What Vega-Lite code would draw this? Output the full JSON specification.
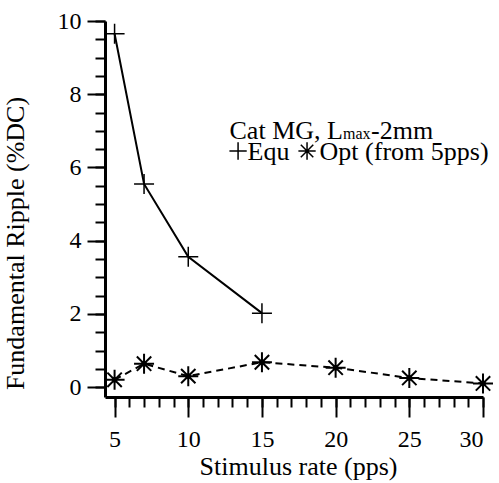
{
  "$schema": "https://vega.github.io/schema/vega-lite/v6.json",
  "autosize": "none",
  "width": 378,
  "height": 376,
  "padding": {"left": 105, "top": 21, "right": 16, "bottom": 86},
  "background": "white",
  "config": {
    "view": {"stroke": null},
    "axis": {
      "grid": false,
      "domainColor": "black",
      "domainWidth": 3,
      "tickColor": "black",
      "tickWidth": 2,
      "labelColor": "black",
      "labelFont": "Liberation Serif, serif",
      "labelFontSize": 24,
      "titleFont": "Liberation Serif, serif",
      "titleFontSize": 26,
      "titleFontWeight": "normal",
      "titleColor": "black"
    }
  },
  "datasets": {
    "curves": [
      {"series": "Equ", "rate": 5, "ripple": 9.65},
      {"series": "Equ", "rate": 7, "ripple": 5.55},
      {"series": "Equ", "rate": 10, "ripple": 3.56},
      {"series": "Equ", "rate": 15, "ripple": 2.02},
      {"series": "Opt", "rate": 5, "ripple": 0.2},
      {"series": "Opt", "rate": 7, "ripple": 0.64},
      {"series": "Opt", "rate": 10, "ripple": 0.3},
      {"series": "Opt", "rate": 15, "ripple": 0.68},
      {"series": "Opt", "rate": 20, "ripple": 0.53},
      {"series": "Opt", "rate": 25, "ripple": 0.25},
      {"series": "Opt", "rate": 30, "ripple": 0.1}
    ],
    "notes": [
      {"text": "Cat MG, L", "x": 12.8, "y": 6.79, "size": 26},
      {"text": "max", "x": 20.5, "y": 6.79, "size": 16},
      {"text": "-2mm", "x": 22.4, "y": 6.79, "size": 26},
      {"text": "Equ", "x": 14.02, "y": 6.21, "size": 26},
      {"text": "Opt (from 5pps)", "x": 18.91, "y": 6.21, "size": 26}
    ],
    "keys": [
      {"series": "Equ", "x": 13.38, "y": 6.45},
      {"series": "Opt", "x": 18.06, "y": 6.45}
    ]
  },
  "resolve": {"axis": {"x": "independent", "y": "independent"}},
  "layer": [
    {
      "data": {"name": "curves"},
      "transform": [{"filter": "datum.series === 'Equ'"}],
      "mark": {"type": "line", "color": "black", "strokeWidth": 2},
      "encoding": {
        "x": {"field": "rate", "type": "quantitative",
              "scale": {"domain": [4.35, 30], "nice": false, "zero": false},
              "axis": {"orient": "bottom", "values": [5, 10, 15, 20, 25, 30], "tickSize": 20, "labelPadding": 10, "title": "Stimulus rate (pps)", "titlePadding": 2, "titleX": 193}},
        "y": {"field": "ripple", "type": "quantitative",
              "scale": {"domain": [-0.27, 10], "nice": false, "zero": false},
              "axis": {"orient": "left", "values": [0, 2, 4, 6, 8, 10], "tickSize": 18, "labelPadding": 6, "title": "Fundamental Ripple (%DC)", "titlePadding": 29, "titleY": 222}}
      }
    },
    {
      "data": {"name": "curves"},
      "transform": [{"filter": "datum.series === 'Opt'"}],
      "mark": {"type": "line", "color": "black", "strokeWidth": 2, "strokeDash": [7, 5]},
      "encoding": {
        "x": {"field": "rate", "type": "quantitative",
              "axis": {"orient": "bottom", "values": [5,6,7,8,9,10,11,12,13,14,15,16,17,18,19,20,21,22,23,24,25,26,27,28,29,30], "tickSize": 10, "labels": false, "domain": false, "title": null}},
        "y": {"field": "ripple", "type": "quantitative",
              "axis": {"orient": "left", "values": [0,0.5,1,1.5,2,2.5,3,3.5,4,4.5,5,5.5,6,6.5,7,7.5,8,8.5,9,9.5,10], "tickSize": 10, "labels": false, "domain": false, "title": null}}
      }
    },
    {
      "data": {"name": "curves"},
      "transform": [{"filter": "datum.series === 'Equ'"}],
      "mark": {"type": "point", "shape": "M-1,0H1M0,-1V1", "size": 400, "filled": false, "color": "black", "strokeWidth": 1.5, "opacity": 1},
      "encoding": {
        "x": {"field": "rate", "type": "quantitative", "axis": null},
        "y": {"field": "ripple", "type": "quantitative", "axis": null}
      }
    },
    {
      "data": {"name": "curves"},
      "transform": [{"filter": "datum.series === 'Opt'"}],
      "mark": {"type": "point", "shape": "M-1,0H1M0,-1V1M-0.72,-0.72L0.72,0.72M-0.72,0.72L0.72,-0.72", "size": 400, "filled": false, "color": "black", "strokeWidth": 2, "opacity": 1},
      "encoding": {
        "x": {"field": "rate", "type": "quantitative", "axis": null},
        "y": {"field": "ripple", "type": "quantitative", "axis": null}
      }
    },
    {
      "data": {"name": "curves"},
      "transform": [{"filter": "datum.series === 'Opt'"}],
      "mark": {"type": "point", "shape": "circle", "size": 30, "filled": true, "color": "black", "opacity": 1},
      "encoding": {
        "x": {"field": "rate", "type": "quantitative", "axis": null},
        "y": {"field": "ripple", "type": "quantitative", "axis": null}
      }
    },
    {
      "data": {"name": "keys"},
      "transform": [{"filter": "datum.series === 'Equ'"}],
      "mark": {"type": "point", "shape": "M-1,0H1M0,-1V1", "size": 300, "filled": false, "color": "black", "strokeWidth": 1.5, "opacity": 1},
      "encoding": {
        "x": {"field": "x", "type": "quantitative", "axis": null},
        "y": {"field": "y", "type": "quantitative", "axis": null}
      }
    },
    {
      "data": {"name": "keys"},
      "transform": [{"filter": "datum.series === 'Opt'"}],
      "mark": {"type": "point", "shape": "M-1,0H1M0,-1V1M-0.72,-0.72L0.72,0.72M-0.72,0.72L0.72,-0.72", "size": 300, "filled": false, "color": "black", "strokeWidth": 1.5, "opacity": 1},
      "encoding": {
        "x": {"field": "x", "type": "quantitative", "axis": null},
        "y": {"field": "y", "type": "quantitative", "axis": null}
      }
    },
    {
      "data": {"name": "notes"},
      "mark": {"type": "text", "align": "left", "baseline": "alphabetic", "font": "Liberation Serif", "color": "black"},
      "encoding": {
        "x": {"field": "x", "type": "quantitative", "axis": null},
        "y": {"field": "y", "type": "quantitative", "axis": null},
        "text": {"field": "text"},
        "size": {"field": "size", "type": "quantitative", "scale": null, "legend": null}
      }
    }
  ]
}
